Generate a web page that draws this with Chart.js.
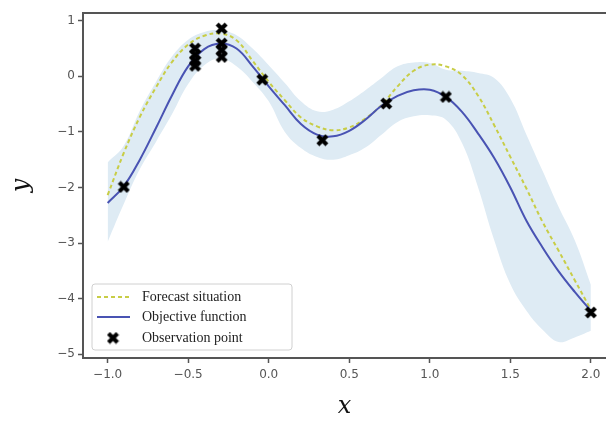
<!DOCTYPE html>
<html>
<head>
<meta charset="utf-8">
<script src="https://cdn.jsdelivr.net/npm/chart.js@4.4.0/dist/chart.umd.min.js"></script>
<style>
    body { margin: 0; background: #fff; overflow: hidden; }
    #grafico { display: block; }
</style>
</head>
<body>
<canvas id="grafico" width="606" height="423"></canvas>
<script>
// x grid used by all curves
const xGrid = [-1.0, -0.9, -0.8, -0.7, -0.6, -0.5, -0.4, -0.3, -0.2, -0.1, 0.0,
    0.1, 0.2, 0.3, 0.4, 0.5, 0.6, 0.7, 0.8, 0.9, 1.0,
    1.1, 1.2, 1.3, 1.4, 1.5, 1.6, 1.7, 1.8, 1.9, 2.0];

// objective function (blue)
const objectiveY = [-2.28, -1.98, -1.50, -0.93, -0.34, 0.18, 0.49, 0.59, 0.50, 0.18, -0.18,
    -0.52, -0.86, -1.05, -1.08, -0.98, -0.78, -0.53, -0.35, -0.25, -0.24,
    -0.37, -0.64, -1.03, -1.47, -2.00, -2.60, -3.08, -3.51, -3.88, -4.22];

// forecast (dashed)
const forecastY = [-2.14, -1.38, -0.73, -0.20, 0.26, 0.57, 0.73, 0.77, 0.65, 0.28, -0.10,
    -0.43, -0.74, -0.90, -0.97, -0.92, -0.76, -0.52, -0.18, 0.10, 0.21,
    0.18, 0.02, -0.35, -0.88, -1.45, -2.02, -2.62, -3.14, -3.67, -4.20];

// confidence band
const bandUpper = [-1.55, -1.25, -0.62, -0.10, 0.36, 0.66, 0.80, 0.83, 0.74, 0.50, 0.20,
    -0.12, -0.45, -0.63, -0.60, -0.45, -0.25, -0.03, 0.18, 0.25, 0.24,
    0.12, 0.10, 0.06, -0.03, -0.40, -1.05, -1.70, -2.35, -2.95, -3.75];
const bandLower = [-2.98, -2.30, -1.67, -1.18, -0.68, -0.14, 0.20, 0.32, 0.18, -0.10, -0.45,
    -1.00, -1.29, -1.45, -1.50, -1.42, -1.28, -1.05, -0.82, -0.72, -0.70,
    -0.78, -1.20, -2.00, -2.95, -3.74, -4.22, -4.56, -4.78, -4.70, -4.58];

// observation points
const obsX = [-0.90, -0.457, -0.457, -0.457, -0.457, -0.292, -0.292, -0.292, -0.292, -0.04, 0.333, 0.73, 1.10, 2.0];
const obsY = [-1.99, 0.50, 0.39, 0.28, 0.19, 0.86, 0.59, 0.47, 0.35, -0.06, -1.15, -0.49, -0.37, -4.25];

// ticks
const xTicks = [-1.0, -0.5, 0.0, 0.5, 1.0, 1.5, 2.0];
const xTickLabels = ['\u22121.0', '\u22120.5', '0.0', '0.5', '1.0', '1.5', '2.0'];
const yTicks = [-5, -4, -3, -2, -1, 0, 1];
const yTickLabels = ['\u22125', '\u22124', '\u22123', '\u22122', '\u22121', '0', '1'];

const legendLabels = ['Forecast situation', 'Objective function', 'Observation point'];

function toPoints(xs, ys) {
    return xs.map((x, i) => ({ x: x, y: ys[i] }));
}

// filled X marker
const xMark = document.createElement('canvas');
xMark.width = 13;
xMark.height = 13;
(function () {
    const mc = xMark.getContext('2d');
    mc.strokeStyle = '#000';
    mc.lineWidth = 4.2;
    mc.beginPath();
    mc.moveTo(2, 2); mc.lineTo(11, 11);
    mc.moveTo(11, 2); mc.lineTo(2, 11);
    mc.stroke();
})();

const blue = '#4953b3';
const yellow = '#c8cd46';
const bandColor = '#deebf4';
const axisGray = '#555';
const dash = [4, 3];

// top spine + legend box
const framePlugin = {
    id: 'frame',
    afterDraw(chart) {
        const { ctx, chartArea } = chart;
        ctx.save();
        ctx.strokeStyle = axisGray;
        ctx.lineWidth = 2;
        ctx.beginPath();
        ctx.moveTo(chartArea.left, chartArea.top);
        ctx.lineTo(chartArea.right, chartArea.top);
        ctx.stroke();

        // legend in lower left corner
        const bx = chartArea.left + 9, by = chartArea.bottom - 74, bw = 200, bh = 66;
        ctx.fillStyle = 'rgba(255,255,255,0.85)';
        ctx.strokeStyle = '#d0d0d0';
        ctx.lineWidth = 1;
        ctx.beginPath();
        ctx.roundRect(bx, by, bw, bh, 3);
        ctx.fill();
        ctx.stroke();

        ctx.font = '14px "Liberation Serif", serif';
        ctx.fillStyle = '#222';
        ctx.textBaseline = 'middle';
        const rowY = [by + 13, by + 33, by + 54];
        // forecast
        ctx.strokeStyle = yellow;
        ctx.lineWidth = 2;
        ctx.setLineDash(dash);
        ctx.beginPath();
        ctx.moveTo(bx + 5, rowY[0]);
        ctx.lineTo(bx + 38, rowY[0]);
        ctx.stroke();
        ctx.setLineDash([]);
        // objective
        ctx.strokeStyle = blue;
        ctx.beginPath();
        ctx.moveTo(bx + 5, rowY[1]);
        ctx.lineTo(bx + 38, rowY[1]);
        ctx.stroke();
        // observation
        ctx.drawImage(xMark, bx + 21 - 6.5, rowY[2] - 6.5);
        legendLabels.forEach((t, i) => ctx.fillText(t, bx + 50, rowY[i]));
        ctx.restore();
    }
};

const ctx = document.getElementById('grafico').getContext('2d');
new Chart(ctx, {
    type: 'scatter',
    data: {
        datasets: [
            {
                label: 'lower',
                data: toPoints(xGrid, bandLower),
                showLine: true,
                borderWidth: 0,
                pointRadius: 0,
                tension: 0.4,
                fill: false,
                order: 4
            },
            {
                label: 'upper',
                data: toPoints(xGrid, bandUpper),
                showLine: true,
                borderWidth: 0,
                pointRadius: 0,
                tension: 0.4,
                backgroundColor: bandColor,
                fill: '-1',
                order: 3
            },
            {
                label: legendLabels[0],
                data: toPoints(xGrid, forecastY),
                showLine: true,
                borderColor: yellow,
                borderWidth: 2,
                borderDash: dash,
                pointRadius: 0,
                tension: 0.4,
                order: 2
            },
            {
                label: legendLabels[1],
                data: toPoints(xGrid, objectiveY),
                showLine: true,
                borderColor: blue,
                borderWidth: 2,
                pointRadius: 0,
                tension: 0.4,
                order: 1
            },
            {
                label: legendLabels[2],
                data: toPoints(obsX, obsY),
                pointStyle: xMark,
                pointRadius: 6,
                order: 0
            }
        ]
    },
    options: {
        responsive: false,
        animation: false,
        layout: { autoPadding: false, padding: { top: 13, left: 0, right: 0, bottom: 0 } },
        plugins: {
            legend: { display: false },
            tooltip: { enabled: false }
        },
        scales: {
            x: {
                type: 'linear',
                min: -1.153,
                max: 2.094,
                afterBuildTicks: (scale) => { scale.ticks = xTicks.map(v => ({ value: v })); },
                afterFit: (scale) => {
                    scale.height = 65;
                    scale.paddingLeft = 0;
                    scale.paddingRight = 0;
                },
                border: { display: true, color: axisGray, width: 2 },
                grid: { drawOnChartArea: false, drawTicks: true, tickLength: 5, tickColor: axisGray, tickWidth: 1.5 },
                ticks: {
                    color: '#555',
                    padding: 5,
                    font: { family: 'DejaVu Sans', size: 12 },
                    maxRotation: 0,
                    callback: (v) => xTickLabels[xTicks.indexOf(v)]
                },
                title: {
                    display: true,
                    text: 'x',
                    color: '#111',
                    font: { family: 'DejaVu Serif', style: 'italic', size: 24, lineHeight: 1 },
                    padding: { top: 0, bottom: 4 }
                }
            },
            y: {
                type: 'linear',
                min: -5.07,
                max: 1.14,
                afterBuildTicks: (scale) => { scale.ticks = yTicks.map(v => ({ value: v })); },
                afterFit: (scale) => {
                    scale.width = 83;
                    scale.paddingTop = 0;
                    scale.paddingBottom = 0;
                },
                border: { display: true, color: axisGray, width: 2 },
                grid: { drawOnChartArea: false, drawTicks: true, tickLength: 5, tickColor: axisGray, tickWidth: 1.5 },
                ticks: {
                    color: '#555',
                    padding: 3,
                    font: { family: 'DejaVu Sans', size: 12 },
                    callback: (v) => yTickLabels[yTicks.indexOf(v)]
                },
                title: {
                    display: true,
                    text: 'y',
                    color: '#111',
                    font: { family: 'DejaVu Serif', style: 'italic', size: 24, lineHeight: 1 },
                    padding: { top: 10, bottom: 0 }
                }
            }
        }
    },
    plugins: [framePlugin]
});
</script>
</body>
</html>
